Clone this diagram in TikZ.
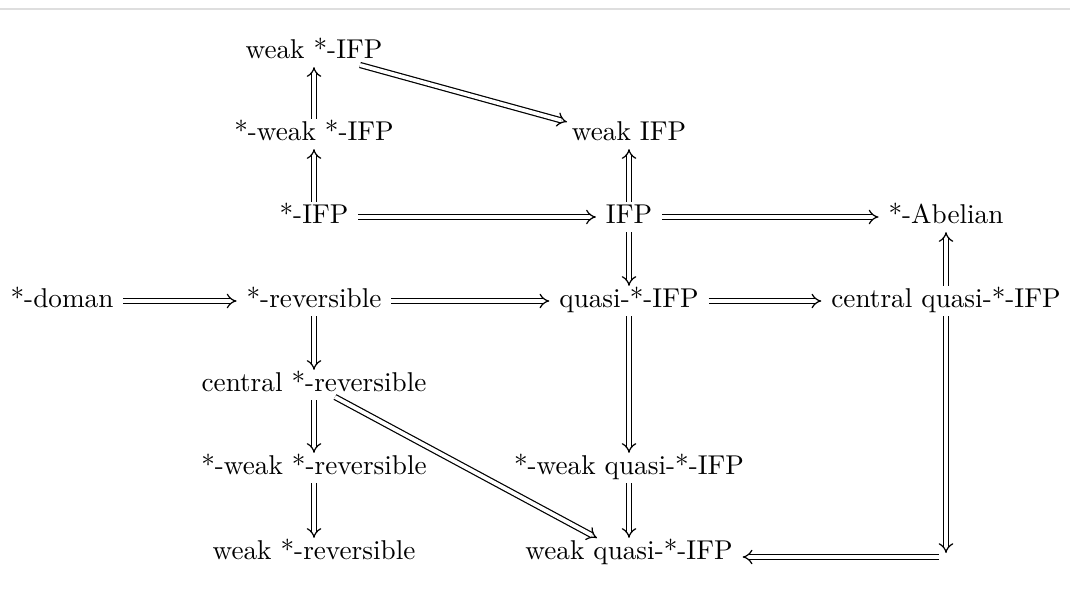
\documentclass[tikz,border=0pt]{standalone}
\usetikzlibrary{arrows.meta,calc}
\begin{document}
\begin{tikzpicture}[x=0.3676pt,y=-0.3676pt,
  lbl/.style={inner xsep=3.5pt,inner ysep=1pt,text height=6.8pt,text depth=1.9pt},
  imp/.style={double,double distance=1.4pt,line width=0.45pt,-{Implies}}]
\useasboundingbox (0,0) rectangle (1070,601);
\draw[line width=0.8pt,black!13] (0,9) -- (1070,9);
\node[lbl] (wsifp)   at (314,52)  {weak *-IFP};
\node[lbl] (swsifp)  at (314,134) {*-weak *-IFP};
\node[lbl] (wifp)    at (629,134) {weak IFP};
\node[lbl] (sifp)    at (314,217) {*-IFP};
\node[lbl] (ifp)     at (629,217) {IFP};
\node[lbl] (sab)     at (946,217) {*-Abelian};
\node[lbl] (sdom)    at (62,301)  {*-doman};
\node[lbl] (srev)    at (314,301) {*-reversible};
\node[lbl] (qsifp)   at (629,301) {quasi-*-IFP};
\node[lbl] (cqsifp)  at (946,301) {central quasi-*-IFP};
\node[lbl] (crev)    at (314,385) {central *-reversible};
\node[lbl] (swsrev)  at (314,468) {*-weak *-reversible};
\node[lbl] (swqsifp) at (629,468) {*-weak quasi-*-IFP};
\node[lbl] (wsrev)   at (314,553) {weak *-reversible};
\node[lbl] (wqsifp)  at (629,553) {weak quasi-*-IFP};
\coordinate (c1) at (946,553);
\coordinate (c2) at (939,557);
\draw[imp] (swsifp) -- (wsifp);
\draw[imp] (sifp) -- (swsifp);
\draw[imp] ($(wsifp.center)+(46,13)$) -- ($(wifp.center)+(-62,-12)$);
\draw[imp] (ifp) -- (wifp);
\draw[imp] (sifp) -- (ifp);
\draw[imp] (ifp) -- (sab);
\draw[imp] (ifp) -- (qsifp);
\draw[imp] (sdom) -- (srev);
\draw[imp] (srev) -- (qsifp);
\draw[imp] (qsifp) -- (cqsifp);
\draw[imp] (cqsifp) -- (sab);
\draw[imp] (srev) -- (crev);
\draw[imp] (crev) -- (swsrev);
\draw[imp] (swsrev) -- (wsrev);
\draw[imp] ($(crev.center)+(21,12)$) -- ($(wqsifp.center)+(-32,-15)$);
\draw[imp] (qsifp) -- (swqsifp);
\draw[imp] (swqsifp) -- (wqsifp);
\draw[imp] (cqsifp) -- (c1);
\draw[imp] (c2) -- (c2 -| wqsifp.east);
\end{tikzpicture}
\end{document}
